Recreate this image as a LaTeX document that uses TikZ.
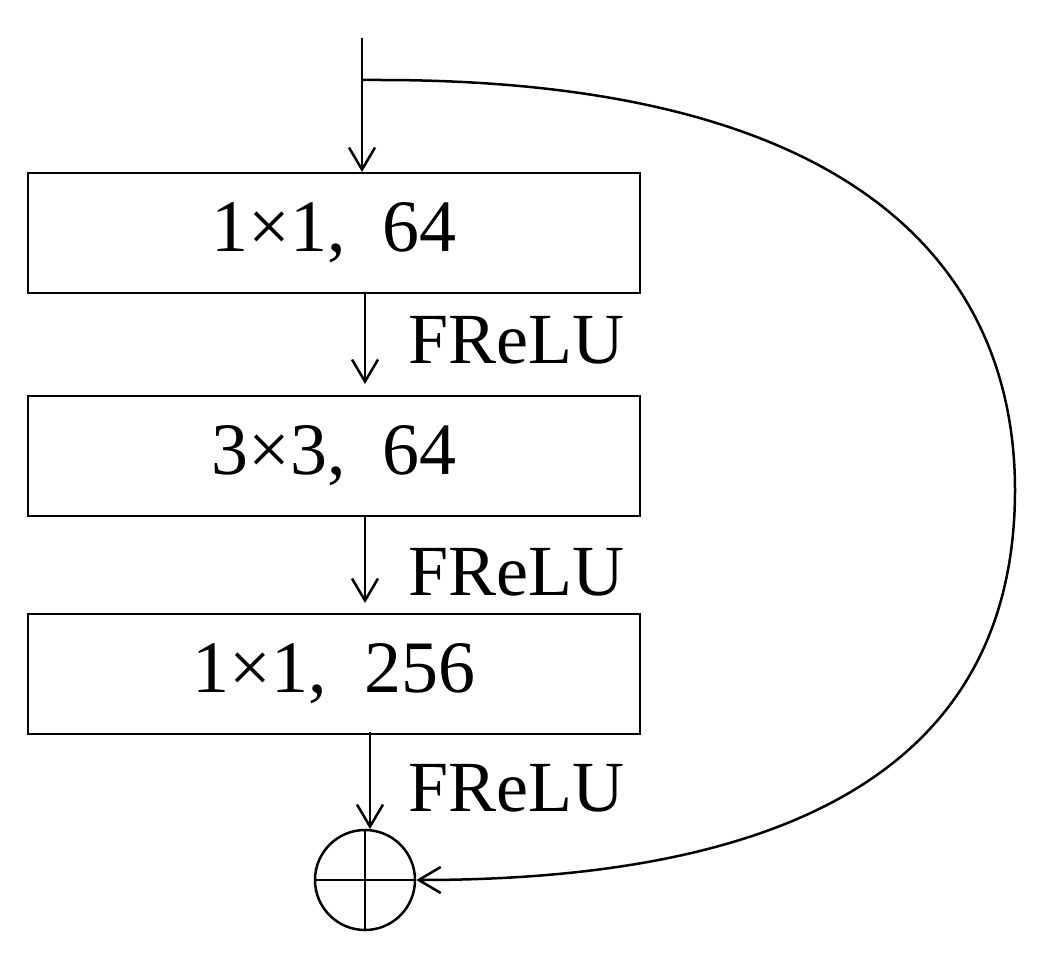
\documentclass[tikz,border=0pt]{standalone}
\usepackage{fontspec}
\setmainfont{Liberation Serif}
\usetikzlibrary{arrows.meta}
\begin{document}
\begin{tikzpicture}[x=1pt,y=-1pt,
  blk/.style={draw,line width=2.5pt,minimum width=612pt,minimum height=120pt,inner sep=0pt,font=\fontsize{74}{80}\selectfont},
  lbl/.style={font=\fontsize{72}{78}\selectfont,anchor=west,inner sep=0pt},
  arr/.style={line width=2.5pt,-{Straight Barb[length=22pt,width=26pt,line width=2.5pt]}}]
\useasboundingbox (0,0) rectangle (1037,955);
\node[blk] (b1) at (334,233) {1×1,\hspace{0.5em}64};
\node[blk] (b2) at (334,456) {3×3,\hspace{0.5em}64};
\node[blk] (b3) at (334,674) {1×1,\hspace{0.5em}256};
\node[draw,circle,line width=2.5pt,minimum size=100pt,inner sep=0pt] (s) at (365,880) {};
\draw[line width=2pt] (s.north)--(s.south) (s.west)--(s.east);
\coordinate (in) at (362,38);
\draw[arr] (in) -- (362,172);
\draw[arr] (365,293) -- (365,384);
\draw[arr] (365,515) -- (365,603);
\draw[arr] (370,732) -- (370,829);
\node[lbl] (f1) at (408,340) {FReLU};
\node[lbl] (f2) at (408,572) {FReLU};
\node[lbl] (f3) at (408,788) {FReLU};
\draw[arr] (362,80) -- (380,80) .. controls (920,80) and (1015,320) .. (1015,490) .. controls (1015,760) and (800,880) .. (s.east);
\end{tikzpicture}
\end{document}
